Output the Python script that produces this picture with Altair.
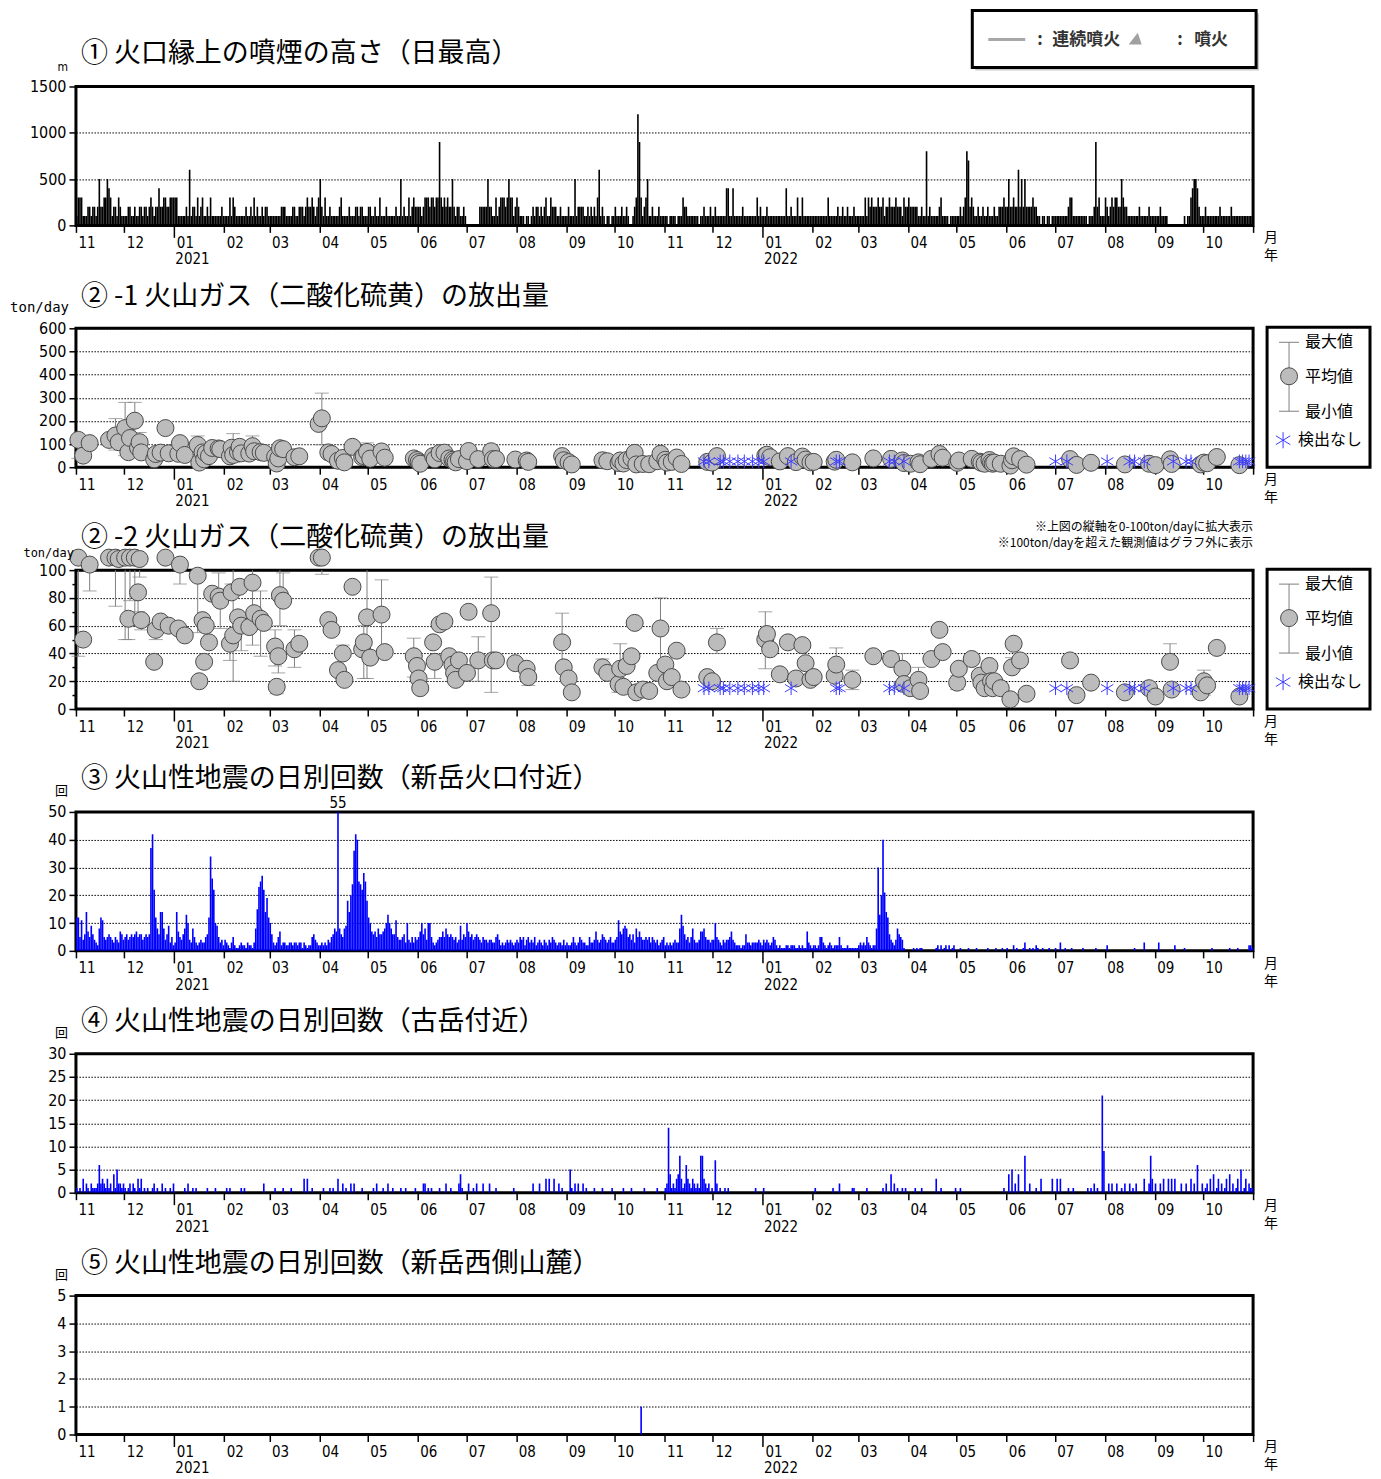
import calendar
import altair as alt
import pandas as pd

# ---------------------------------------------------------------- data
START = pd.Timestamp(2020, 11, 1)
MONTHS = [(2020, 11), (2020, 12)] + [(2021, m) for m in range(1, 13)] + [(2022, m) for m in range(1, 11)]
YEAR_LABELS = ["2021", "2022"]
YEAR_DATES = ["2021/01/01 00:00", "2022/01/01 00:00"]

# 1) daily max plume height above crater rim, in units of 100 m
plume_100m = [
    [1,3,3,3,1,1,1,2,2,1,2,2,1,2,5,2,2,3,3,5,4,3,1,2,2,1,3,2,1,1],
    [1,1,2,2,1,1,2,1,1,2,2,1,2,2,1,2,3,2,1,2,2,4,2,2,3,3,2,2,3,3,3],
    [3,3,1,1,1,1,1,2,1,6,1,2,2,1,3,1,2,3,1,1,2,1,3,1,1,1,1,1,1,2,1],
    [1,1,1,3,1,3,2,1,1,1,1,1,1,2,1,1,2,1,3,1,2,1,1,2,1,2,2,1],
    [1,1,1,1,1,1,1,2,2,2,1,1,1,1,2,2,1,1,2,2,2,1,2,3,2,2,3,2,1,2,3],
    [5,2,1,3,1,1,2,1,1,1,1,1,2,3,1,1,1,1,2,1,1,1,2,2,1,2,2,1,1,1],
    [2,2,1,1,2,1,1,3,1,1,1,2,1,1,1,1,1,2,1,1,5,1,2,1,1,3,1,2,3,2,2],
    [2,2,1,2,3,3,3,2,3,3,2,3,3,9,3,2,3,2,3,2,2,5,2,1,2,2,1,1,2,1],
    [0,0,0,0,0,0,0,0,2,2,2,2,2,5,2,2,1,1,3,1,2,3,3,3,2,3,5,3,3,1,2],
    [3,2,1,1,1,0,1,1,0,1,2,1,2,2,1,2,1,2,3,1,1,3,2,2,2,1,1,2,1,1,1],
    [1,2,1,1,1,5,1,2,2,2,2,1,1,2,1,2,1,2,1,3,6,1,2,1,0,1,1,0,1,1],
    [2,1,1,1,2,1,1,2,1,0,0,1,2,3,12,9,3,1,2,3,5,1,1,2,1,1,1,2,1,1,1],
    [1,1,0,1,1,1,1,0,1,1,1,3,2,2,1,1,1,1,1,1,1,0,1,1,2,1,1,1,2,1],
    [1,2,1,1,1,1,1,1,4,4,1,1,4,1,1,1,1,1,2,1,1,1,1,1,1,1,1,3,1,2,1],
    [1,1,2,1,1,1,1,1,1,1,1,1,1,1,4,1,1,2,1,1,1,3,1,1,3,1,1,1,1,1,1],
    [1,1,1,1,1,1,1,1,1,3,1,1,1,1,1,2,1,1,2,1,1,2,1,1,1,2,1,1],
    [1,1,1,1,3,1,3,2,3,2,2,2,3,2,2,3,1,2,2,3,2,2,2,3,2,2,2,1,3,2,2],
    [3,2,2,2,2,2,1,1,2,1,1,8,1,2,1,1,1,1,1,2,3,1,1,1,1,0,1,1,1,1],
    [1,1,2,1,2,3,8,7,2,3,2,1,1,2,1,1,2,1,1,2,1,1,1,2,1,1,2,2,2,3,2],
    [2,5,2,2,3,2,2,6,2,5,2,5,2,2,2,2,3,2,2,1,1,0,1,1,0,1,1,0,1,1],
    [1,1,1,1,1,1,1,1,2,3,3,1,1,1,1,1,1,1,1,1,0,1,1,1,2,9,2,3,1,1,1],
    [3,2,1,2,3,2,3,3,2,2,5,3,2,2,1,1,1,1,1,1,1,2,1,1,1,1,1,2,1,1,1],
    [1,1,1,2,1,1,1,1,0,0,0,0,0,0,0,0,0,0,1,0,1,1,3,4,5,5,4,2,1,1],
    [1,2,1,1,1,1,1,1,1,1,2,1,1,1,1,1,1,2,1,1,1,1,1,1,1,1,1,1,1,1,1],
]

# 2) SO2 emission: days since 2020-11-01, mean, min, max (ton/day)
so2_day = [1,4,8,20,24,26,30,33,36,39,32,38,40,48,49,52,57,55,64,63,67,75,76,78,80,82,79,84,88,89,
           95,96,97,100,101,102,107,109,110,114,116,123,125,124,126,128,135,138,150,152,156,158,162,165,166,171,177,178,180,182,
           189,191,209,211,212,213,221,222,225,228,231,233,234,235,237,242,243,249,257,258,260,272,279,280,301,302,305,307,326,329,
           336,337,339,341,344,346,347,351,355,360,362,365,366,369,372,375,391,394,397,427,428,430,436,441,446,450,452,455,457,470,
           471,481,494,505,512,513,517,522,523,530,535,537,546,547,555,560,561,563,566,567,568,569,573,579,580,581,585,589,616,620,
           629,650,665,669,678,679,697,699,701,707,721]
so2_mean = [118,50,104,118,137,108,169,126,201,108,65,84,64,34,57,63,60,169,104,58,53,96,20,64,60,48,34,83,81,78,
            47,84,53,66,88,60,59,91,69,65,62,45,38,16,82,78,43,47,187,211,64,57,28,40,21,88,43,48,66,37,
            68,41,38,31,22,15,48,34,61,63,38,32,26,21,35,26,70,35,69,35,35,33,29,23,48,30,22,12,30,26,
            18,29,16,31,38,62,12,14,13,26,58,32,20,23,42,14,23,20,48,50,54,43,25,48,22,46,33,21,23,24,
            32,21,38,36,29,18,15,21,13,36,57,41,19,29,36,24,19,15,31,20,15,20,15,7,30,47,35,11,35,10,
            19,12,15,9,34,14,12,20,17,44,9]
so2_min = [38,50,85,118,74,108,50,78,60,95,50,70,57,34,50,63,60,169,90,58,53,55,20,64,60,48,34,83,81,58,
           35,84,20,66,88,42,59,46,69,38,62,31,26,11,60,78,30,47,187,97,64,57,28,40,21,88,43,22,22,37,
           41,41,23,31,16,15,48,22,61,63,38,32,26,21,35,26,70,20,12,35,35,33,29,17,30,30,22,12,30,26,
           12,29,16,31,38,62,12,14,13,26,25,32,20,23,42,14,23,20,40,29,54,43,25,48,22,46,33,21,23,24,
           32,14,38,36,29,18,15,13,13,36,57,41,14,29,36,24,19,15,31,20,15,20,15,7,30,47,35,11,35,10,
           19,12,15,9,34,14,12,10,17,44,9]
so2_max = [130,50,120,118,210,108,280,150,280,150,65,84,64,34,57,63,60,169,110,58,53,135,20,64,60,48,34,83,98,78,
           51,90,145,66,88,60,59,135,69,85,62,57,38,16,100,98,57,47,187,320,64,57,28,46,21,88,43,60,105,37,
           93,41,51,31,22,15,48,34,61,63,38,32,26,21,35,26,70,52,95,35,35,33,29,23,69,30,22,12,36,26,
           18,47,16,31,38,62,12,14,13,26,80,32,20,23,42,14,23,20,58,70,54,43,25,48,22,46,33,21,23,24,
           44,28,38,36,40,18,15,30,13,36,57,41,24,29,36,24,19,15,31,20,15,20,15,7,37,47,35,11,35,10,
           19,12,15,9,47,14,12,28,17,44,9]
# days with no SO2 detected
so2_nd_day = [389,392,399,401,405,410,414,419,423,426,443,471,473,504,507,513,607,614,639,653,656,662,
              680,688,691,721,723,725,727]

# 3) daily volcanic earthquakes near Shinmoedake crater
eq_crater = [
    [12,12,5,11,4,6,14,7,5,9,6,4,3,2,8,12,11,5,4,5,6,5,4,3,5,4,3,7,6,4],
    [5,6,4,5,6,5,6,7,5,6,6,4,5,6,5,6,37,42,22,12,8,6,14,14,8,4,6,9,3,5,2],
    [3,14,7,5,4,6,8,13,10,4,3,8,5,3,2,3,4,3,3,5,6,12,34,26,22,10,9,5,3,4,2],
    [4,3,2,1,3,5,2,1,1,2,3,2,2,1,3,2,2,1,3,8,15,23,25,27,22,14,19,12],
    [10,6,3,2,3,5,7,2,3,3,2,2,3,3,2,3,3,2,3,3,1,3,2,1,2,2,5,6,4,3,2],
    [2,3,2,3,2,4,3,5,6,8,7,55,8,6,5,8,9,18,14,20,24,36,42,40,25,24,22,28,25,18],
    [12,10,7,6,7,5,8,6,6,7,8,10,13,10,8,6,6,11,5,4,4,5,6,3,10,4,3,5,3,5,4],
    [5,7,10,6,8,4,10,10,5,3,2,3,4,5,5,7,5,8,6,5,6,5,4,5,3,4,9,4,6,5],
    [10,7,5,6,4,5,6,5,4,3,5,4,4,3,4,4,3,3,5,6,4,2,3,2,3,4,3,4,3,2,3],
    [4,3,5,4,5,2,4,5,3,4,3,5,2,3,4,3,2,4,3,2,4,3,5,4,3,2,3,3,2,4,2],
    [3,2,2,3,5,3,2,3,5,4,3,3,2,2,5,3,3,4,7,4,3,4,6,5,4,3,4,5,3,3],
    [4,5,11,7,6,8,9,8,5,6,4,6,3,8,5,7,5,4,4,5,4,5,3,5,4,3,4,2,3,4,5],
    [2,3,2,3,2,3,4,3,3,8,13,9,6,4,5,3,5,8,4,3,3,4,7,7,8,5,4,4,3,4],
    [4,10,5,4,3,2,4,3,4,4,5,7,4,3,2,2,2,1,2,2,6,3,3,2,3,3,3,3,4,3,2],
    [4,3,4,3,2,3,5,4,2,1,2,1,1,1,2,2,1,2,2,2,1,1,2,1,2,1,1,7,3,2,1],
    [2,2,1,2,5,5,3,2,1,2,3,2,1,2,2,2,5,2,1,1,1,2,1,1,1,1,1,1],
    [2,3,2,3,2,5,3,2,1,2,2,8,30,13,20,40,21,14,12,6,4,3,2,4,8,6,5,4,1,0,0],
    [0,0,0,1,0,1,0,1,1,0,0,0,0,0,0,0,0,1,2,0,2,0,1,2,0,2,0,1,2,0],
    [0,0,1,0,0,0,0,1,0,0,0,0,1,0,0,0,0,0,0,1,0,0,0,0,1,0,0,0,1,0,0],
    [1,0,0,0,2,0,1,0,0,0,1,3,0,0,1,0,1,0,2,1,0,0,1,0,0,0,1,0,0,0],
    [1,0,0,3,0,0,1,0,0,0,1,0,0,0,0,0,0,1,0,0,0,0,0,0,0,1,0,0,0,0,0],
    [0,2,0,0,0,0,0,0,0,0,0,0,0,0,0,0,0,0,1,0,0,0,0,0,3,0,0,0,0,0,0],
    [0,0,3,0,0,0,0,0,0,0,0,0,2,0,0,0,0,0,1,0,0,0,0,0,0,0,0,0,0,0],
    [0,0,0,0,0,1,0,0,0,0,0,0,0,0,0,0,1,0,0,0,0,1,0,0,0,0,0,0,2,2,1],
]

# 4) daily volcanic earthquakes near Furudake
eq_furudake = [
    [1,0,1,0,3,0,2,1,0,2,1,1,1,2,6,2,3,2,1,3,1,2,0,4,1,5,2,2,1,2],
    [1,0,1,2,0,2,1,0,3,1,3,0,1,0,1,0,0,1,2,0,1,0,0,2,0,1,0,0,1,0,2],
    [0,0,0,0,0,0,1,0,2,0,0,1,0,1,0,0,0,0,0,0,1,0,0,0,0,1,0,0,0,0,0],
    [0,1,0,1,0,0,0,0,0,0,1,0,1,0,0,0,0,0,0,0,0,0,0,0,2,0,0,0],
    [0,0,0,1,0,0,0,0,1,0,0,0,0,1,0,0,0,0,0,0,0,3,0,3,0,0,1,0,0,0,0],
    [0,0,1,0,0,0,1,0,1,0,0,3,0,0,2,0,1,0,0,2,0,2,0,0,0,0,1,0,0,0],
    [0,0,0,1,0,2,0,0,0,1,0,0,2,0,0,1,0,0,0,0,1,0,0,1,0,0,0,0,0,1,0],
    [0,0,0,2,2,0,1,0,1,0,0,0,0,1,0,0,0,2,0,0,1,0,0,0,0,2,4,1,0,0],
    [0,2,0,0,1,0,2,0,0,0,2,0,0,0,2,0,0,0,1,0,0,0,0,0,0,0,0,0,0,1,0],
    [0,0,0,0,0,0,0,0,0,0,2,0,0,0,2,0,0,0,3,0,3,0,0,3,0,0,2,0,1,0,0],
    [0,0,5,1,0,2,0,2,0,0,2,0,1,0,0,0,0,1,0,0,0,0,1,0,0,0,0,0,1,0],
    [0,0,0,0,0,1,0,0,0,0,1,0,0,0,0,0,0,0,1,0,0,0,0,0,0,0,1,0,0,0,0],
    [1,2,14,4,1,2,1,3,4,8,3,1,2,6,3,2,1,3,2,1,2,1,8,8,3,2,1,2,0,1],
    [0,7,2,0,1,0,0,1,0,1,0,0,0,0,0,0,0,0,0,0,0,0,0,0,0,0,1,0,0,0,0],
    [1,0,0,0,0,0,0,0,0,0,0,0,0,0,0,0,0,0,0,0,0,0,0,0,0,0,0,0,0,0,0],
    [0,1,0,0,0,0,0,0,0,0,0,0,1,0,0,0,2,0,0,0,0,0,0,0,1,1,0,0],
    [0,0,0,0,0,1,0,0,0,0,0,0,0,0,0,1,0,2,0,0,4,0,2,0,1,0,0,1,0,1,0],
    [0,0,0,0,1,0,0,0,1,0,0,0,0,0,0,0,0,3,0,0,1,0,0,0,0,0,0,0,0,1],
    [0,0,1,0,0,0,0,0,0,0,0,0,0,0,0,0,0,0,0,0,0,0,0,0,0,0,0,0,0,1,0],
    [0,4,0,5,0,2,0,4,0,0,0,8,0,0,2,0,0,0,1,0,0,3,0,0,0,0,0,0,3,0],
    [0,3,0,3,0,0,0,0,1,0,0,1,0,0,0,0,0,0,0,0,1,0,1,0,2,0,1,0,0,21,9],
    [0,0,2,0,2,0,0,2,0,0,1,0,2,0,0,2,0,1,0,2,0,0,0,0,3,0,0,2,8,3,0],
    [2,0,0,2,0,3,0,0,3,0,3,0,3,0,0,0,2,0,0,2,0,0,3,0,2,0,6,0,0,2],
    [0,1,2,0,3,0,4,0,1,3,0,2,0,1,3,0,4,0,2,0,1,3,0,5,0,1,3,0,2,1,1],
]

# 5) volcanic earthquakes at the western foot of Shinmoedake
eq_west_dates = ["2021/10/17"]
eq_west_counts = [1]

# ---------------------------------------------------------------- helpers
FMT = "%Y/%m/%d %H:%M"
W, H = 1178, 139
JP = "Noto Sans CJK JP"
NUM = "Liberation Sans Narrow, DejaVu Sans Condensed, Liberation Sans, sans-serif"
BLUE = "#0000ff"
DUMMY = pd.DataFrame({"k": [0]})


def daily_frame(rows, unit=1):
    recs = []
    for (y, m), vals in zip(MONTHS, rows):
        n = calendar.monthrange(y, m)[1]
        for i, v in enumerate(vals[:n]):
            d = pd.Timestamp(y, m, i + 1)
            recs.append({"date": d.strftime(FMT),
                         "date2": (d + pd.Timedelta(days=1)).strftime(FMT),
                         "v": v * unit})
    return pd.DataFrame(recs)


JAN = "month(datum.value)==0"
XS = alt.Scale(domain=[alt.DateTime(year=2020, month=11, date=1),
                       alt.DateTime(year=2022, month=11, date=1)], nice=False)
tick_vals = [alt.DateTime(year=y, month=m, date=1) for (y, m) in MONTHS] + \
            [alt.DateTime(year=2022, month=11, date=1)]
XAXIS = alt.Axis(
    values=tick_vals, title=None, grid=False, domain=False,
    labelExpr="(year(datum.value)==2022 && month(datum.value)==10) ? '' : timeFormat(datum.value,'%m')",
    labelAlign="left", labelOffset=2, labelFontSize=15, labelFont=NUM,
    labelPadding={"condition": {"test": JAN, "value": -2}, "value": 3},
    labelOverlap=False, labelFlush=False, labelColor="black",
    tickSize={"condition": {"test": JAN, "value": 12}, "value": 7},
    tickWidth=1.5, tickColor="black",
)
years_df = pd.DataFrame({"date": YEAR_DATES, "label": YEAR_LABELS})


def yaxis(values, **kw):
    base = dict(values=values, title=None, grid=True, domain=False, tickSize=7, format="d",
                tickWidth=1.5, tickColor="black", labelFontSize=16, labelPadding=3, labelFont=NUM,
                labelColor="black", labelOverlap=False,
                gridColor="black", gridDash=[1.5, 1.5], gridOpacity=1, gridWidth=1)
    base.update(kw)
    return alt.Axis(**base)


def txt(s, x, y, size=15, align="left", baseline="middle", font=JP, color="black", weight="normal"):
    return alt.Chart(DUMMY).mark_text(text=s, align=align, baseline=baseline, fontSize=size,
                                      font=font, color=color, fontWeight=weight).encode(
        x=alt.value(x), y=alt.value(y))


def box(x1, x2, y1, y2, fill="white", stroke="black", sw=3):
    return alt.Chart(DUMMY).mark_rect(fill=fill, stroke=stroke, strokeWidth=sw).encode(
        x=alt.value(x1), x2=alt.value(x2), y=alt.value(y1), y2=alt.value(y2))


def seg(x1, x2, y1, y2, color="#808080", sw=1):
    return alt.Chart(DUMMY).mark_rule(color=color, strokeWidth=sw).encode(
        x=alt.value(x1), x2=alt.value(x2), y=alt.value(y1), y2=alt.value(y2))


ASTER = "M0,-1L0,1M-0.9,-0.55L0.9,0.55M-0.9,0.55L0.9,-0.55"


def sym(x, y, shape, size, **kw):
    return alt.Chart(DUMMY).mark_point(shape=shape, size=size, opacity=1, **kw).encode(
        x=alt.value(x), y=alt.value(y))


def decorations():
    return [
        alt.Chart(years_df).mark_text(align="left", baseline="middle", dx=1, fontSize=15, font=NUM,
                                      color="black").encode(
            x=alt.X("date:T", scale=XS, axis=XAXIS), y=alt.value(H + 34), text="label:N"),
        txt("月", 1189, H + 13, size=14),
        txt("年", 1189, H + 31, size=14),
    ]


def title(s, y=-32):
    return txt(s, 5, y, size=27)


def daily_bars(df, color, dom, yvals):
    return alt.Chart(df).mark_bar(color=color, clip=True).encode(
        x=alt.X("date:T", scale=XS, axis=XAXIS), x2="date2:T",
        y=alt.Y("v:Q", scale=alt.Scale(domain=dom, nice=False), axis=yaxis(yvals)),
        y2=alt.datum(0))


# ---------------------------------------------------------------- panel 1
plume = daily_frame(plume_100m, unit=100)
p1 = alt.layer(
    daily_bars(plume, "black", [0, 1500], [0, 500, 1000, 1500]),
    title("①  火口縁上の噴煙の高さ（日最高）"),
    txt("m", -8, -19, size=12, align="right", font=NUM),
    box(900, 1184, -73, -16, fill="#c8c8c8", stroke="#c8c8c8", sw=0),
    box(897, 1181, -76, -19),
    seg(913, 950, -47, -47, color="#a8a8a8", sw=3),
    txt(":", 962, -47, size=17, color="#333333", weight="bold"),
    txt("連続噴火", 977, -47, size=17, color="#333333", weight="bold"),
    sym(1060, -48, "M-1,0.9L1,0.9L0.4,-0.9Z", 170, filled=True, color="#a0a0a0"),
    txt(":", 1102, -47, size=17, color="#333333", weight="bold"),
    txt("噴火", 1119, -47, size=17, color="#333333", weight="bold"),
    *decorations(),
).properties(width=W, height=H)

# ---------------------------------------------------------------- SO2 frames
so2 = pd.DataFrame({"day": so2_day, "mean": so2_mean, "lo": so2_min, "hi": so2_max}).sort_values("day")
so2["date"] = (START + pd.to_timedelta(so2["day"], unit="D") + pd.Timedelta(hours=12)).dt.strftime(FMT)
bars = so2[so2["hi"] > so2["lo"]].copy()
caps = pd.concat([bars[["date", "lo"]].rename(columns={"lo": "val"}),
                  bars[["date", "hi"]].rename(columns={"hi": "val"})])
nd = pd.DataFrame({"day": so2_nd_day})
nd["date"] = (START + pd.to_timedelta(nd["day"], unit="D") + pd.Timedelta(hours=12)).dt.strftime(FMT)

so2_zoom = so2.copy()
so2_zoom["mean"] = so2_zoom["mean"].clip(upper=109)
bars_zoom = bars.copy()
bars_zoom["lo"] = bars_zoom["lo"].clip(upper=100)
bars_zoom["hi"] = bars_zoom["hi"].clip(upper=100)
bars_zoom = bars_zoom[bars_zoom["hi"] > bars_zoom["lo"]]
caps_zoom = caps[caps["val"] < 100]

CIRCLE_FILL = "#bcbcbc"
CIRCLE_STROKE = "#4a4a4a"
ND_BLUE = "#3a3aff"


def so2_layers(ys, yax, bars_df, caps_df, pts_df, nd_value):
    rule = alt.Chart(bars_df).mark_rule(color="#808080", strokeWidth=1).encode(
        x=alt.X("date:T", scale=XS, axis=XAXIS), y=alt.Y("lo:Q", scale=ys, axis=yax), y2="hi:Q")
    cap = alt.Chart(caps_df).mark_tick(orient="horizontal", size=14, thickness=1, color="#808080").encode(
        x=alt.X("date:T", scale=XS, axis=XAXIS), y=alt.Y("val:Q", scale=ys, axis=yax))
    pts = alt.Chart(pts_df).mark_circle(size=290, fill=CIRCLE_FILL, fillOpacity=1, stroke=CIRCLE_STROKE,
                                        strokeWidth=1, opacity=1).encode(
        x=alt.X("date:T", scale=XS, axis=XAXIS), y=alt.Y("mean:Q", scale=ys, axis=yax))
    ast = alt.Chart(nd).transform_calculate(v=str(nd_value)).mark_point(
        shape=ASTER, size=190, filled=False, color=ND_BLUE, strokeWidth=1, opacity=1).encode(
        x=alt.X("date:T", scale=XS, axis=XAXIS), y=alt.Y("v:Q", scale=ys, axis=yax))
    return [rule, cap, pts, ast]


def so2_legend(y0):
    return [
        box(1192, 1295, y0, y0 + 140),
        seg(1214, 1214, y0 + 15, y0 + 84),
        seg(1204, 1224, y0 + 15, y0 + 15),
        seg(1204, 1224, y0 + 84, y0 + 84),
        sym(1214, y0 + 49, "circle", 290, filled=True, fill=CIRCLE_FILL, stroke=CIRCLE_STROKE, strokeWidth=1),
        txt("最大値", 1230, y0 + 15, size=16),
        txt("平均値", 1230, y0 + 50, size=16),
        txt("最小値", 1230, y0 + 85, size=16),
        sym(1208, y0 + 113, ASTER, 260, filled=False, color=ND_BLUE, strokeWidth=1),
        txt("検出なし", 1223, y0 + 113, size=16),
    ]


# panel 2-1
ys21 = alt.Scale(domain=[0, 600], nice=False)
yax21 = yaxis(list(range(0, 601, 100)))
p21 = alt.layer(
    *so2_layers(ys21, yax21, bars, caps, so2, 25),
    title("②  -1  火山ガス（二酸化硫黄）の放出量", y=-31),
    txt("ton/day", -7, -20, size=14, align="right", font="DejaVu Sans Mono"),
    *so2_legend(-1),
    *decorations(),
).properties(width=W, height=H)

# panel 2-2
ys22 = alt.Scale(domain=[0, 100], nice=False)
yax22 = yaxis(
    list(range(0, 101, 10)),
    labelExpr="datum.value % 20 == 0 ? datum.label : ''",
    tickSize={"condition": {"test": "datum.value % 20 == 0", "value": 7}, "value": 4},
    gridOpacity={"condition": {"test": "datum.value % 20 == 0", "value": 1}, "value": 0})
p22 = alt.layer(
    *so2_layers(ys22, yax22, bars_zoom, caps_zoom, so2_zoom, 15),
    title("②  -2  火山ガス（二酸化硫黄）の放出量"),
    txt("ton/day", -2, -17, size=12, align="right", font="DejaVu Sans Mono"),
    txt("※上図の縦軸を0-100ton/dayに拡大表示", W, -43, size=12, align="right"),
    txt("※100ton/dayを超えた観測値はグラフ外に表示", W, -27, size=12, align="right"),
    *so2_legend(-1),
    *decorations(),
).properties(width=W, height=H)

# ---------------------------------------------------------------- panel 3
eq3 = daily_frame(eq_crater)
over = eq3[eq3["v"] > 50].copy()
over["mid"] = (pd.to_datetime(over["date"], format=FMT) + pd.Timedelta(hours=12)).dt.strftime(FMT)
p3 = alt.layer(
    daily_bars(eq3, BLUE, [0, 50], list(range(0, 51, 10))),
    alt.Chart(over).mark_text(fontSize=15, font=NUM, baseline="middle", color="black").encode(
        x=alt.X("mid:T", scale=XS, axis=XAXIS), y=alt.value(-9), text="v:Q"),
    title("③  火山性地震の日別回数（新岳火口付近）", y=-33),
    txt("回", -8, -21, size=13, align="right"),
    *decorations(),
).properties(width=W, height=H)

# ---------------------------------------------------------------- panel 4
eq4 = daily_frame(eq_furudake)
p4 = alt.layer(
    daily_bars(eq4, BLUE, [0, 30], list(range(0, 31, 5))),
    title("④  火山性地震の日別回数（古岳付近）"),
    txt("回", -8, -21, size=13, align="right"),
    *decorations(),
).properties(width=W, height=H)

# ---------------------------------------------------------------- panel 5
eq5 = pd.DataFrame({"d": pd.to_datetime(eq_west_dates, format="%Y/%m/%d"), "v": eq_west_counts})
eq5["date"] = eq5["d"].dt.strftime(FMT)
eq5["date2"] = (eq5["d"] + pd.Timedelta(days=1)).dt.strftime(FMT)
eq5 = eq5[["date", "date2", "v"]]
p5 = alt.layer(
    daily_bars(eq5, BLUE, [0, 5], list(range(0, 6))),
    title("⑤  火山性地震の日別回数（新岳西側山麓）"),
    txt("回", -8, -21, size=13, align="right"),
    *decorations(),
).properties(width=W, height=H)

chart = alt.vconcat(p1, p21, p22, p3, p4, p5, spacing=103, bounds="flush").properties(
    padding={"left": 0, "top": -1, "right": 0, "bottom": 0}, background="white"
).configure_view(stroke="black", strokeWidth=3)

chart.save("out.html", embed_options={"renderer": "svg", "actions": False})
